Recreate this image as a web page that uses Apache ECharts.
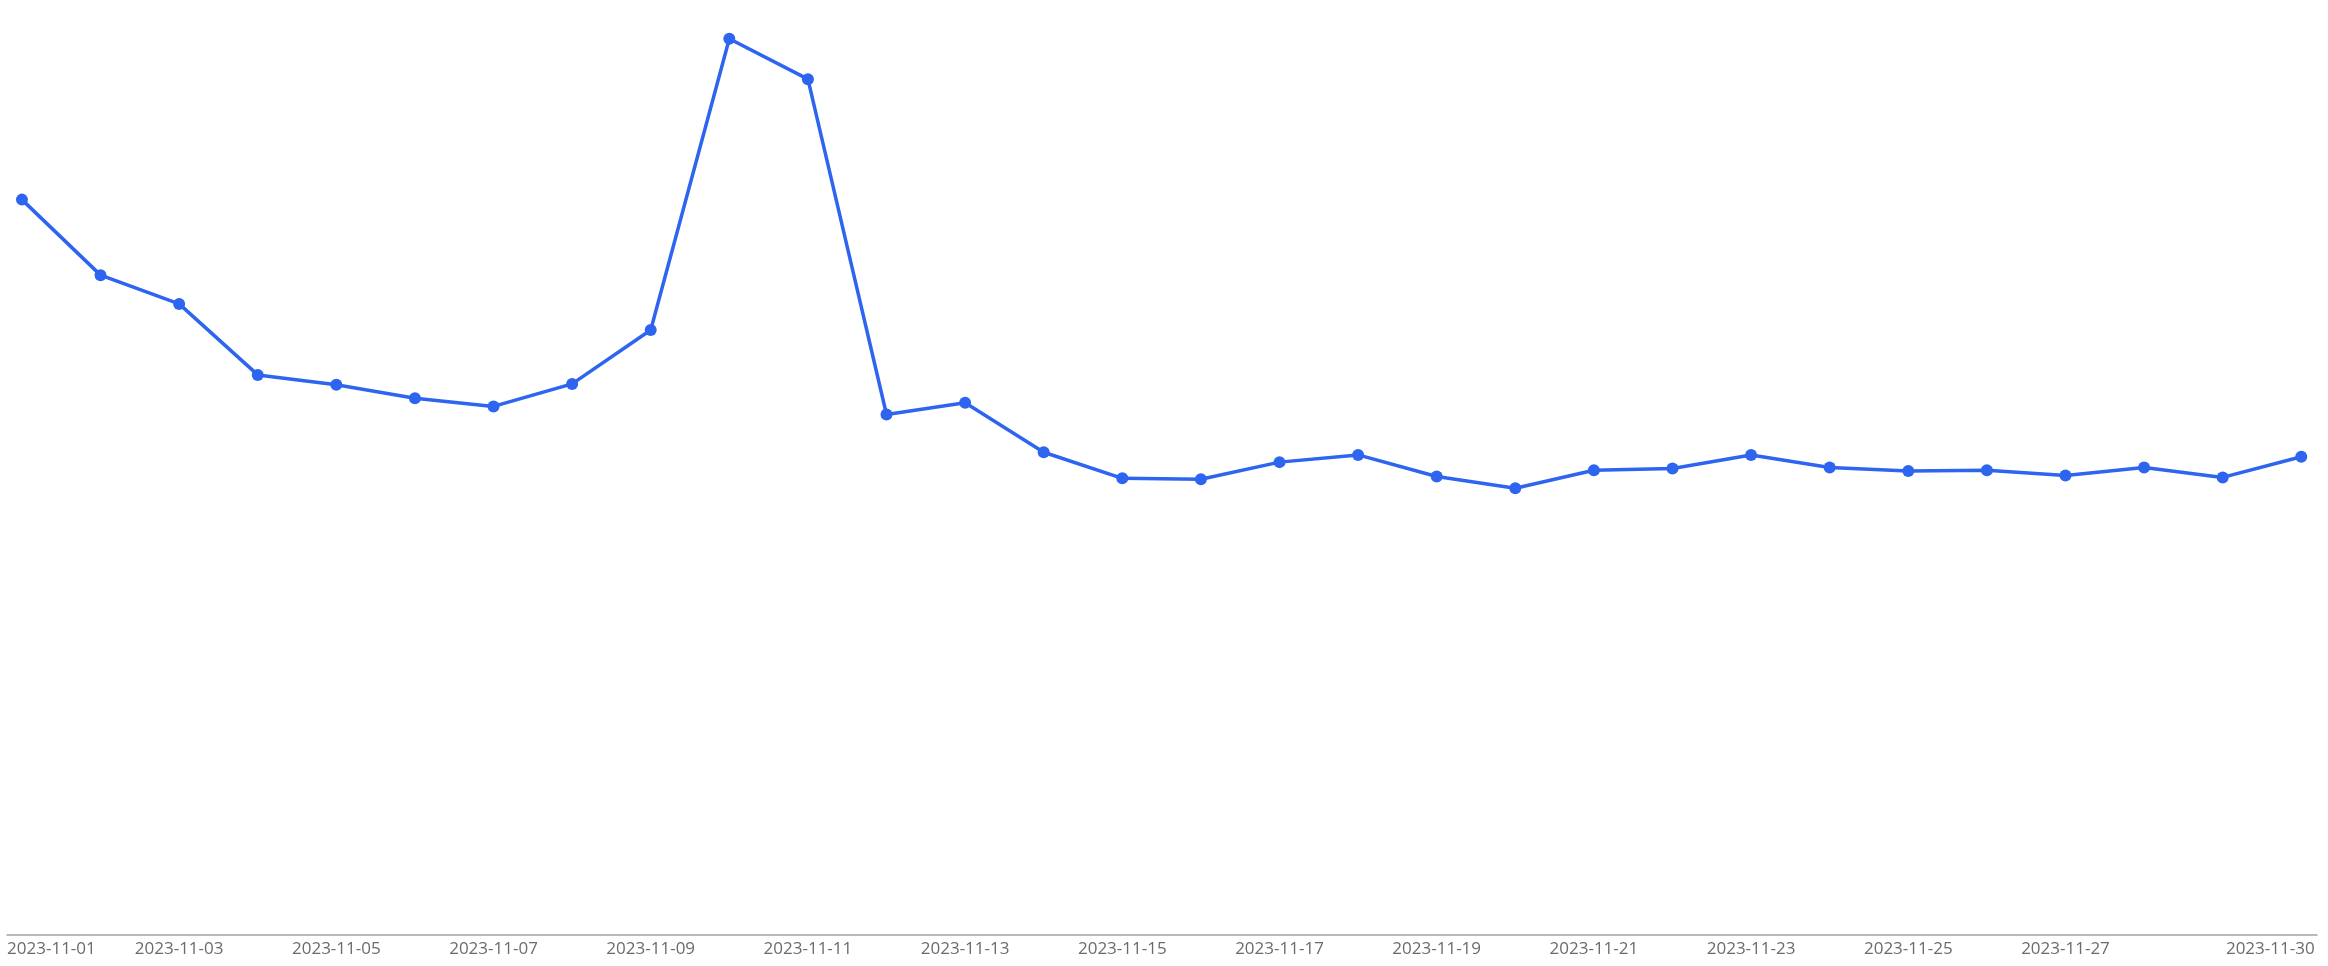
<!DOCTYPE html>
<html>
<head>
<meta charset="utf-8">
<script src="https://cdn.jsdelivr.net/npm/echarts@6/dist/echarts.min.js"></script>
<style>
html,body{margin:0;padding:0;background:#fff;}
#chart{width:2328px;height:966px;}
</style>
</head>
<body>
<div id="chart"></div>
<script>
const dates = ['2023-11-01','2023-11-02','2023-11-03','2023-11-04','2023-11-05','2023-11-06','2023-11-07','2023-11-08','2023-11-09','2023-11-10',
  '2023-11-11','2023-11-12','2023-11-13','2023-11-14','2023-11-15','2023-11-16','2023-11-17','2023-11-18','2023-11-19','2023-11-20',
  '2023-11-21','2023-11-22','2023-11-23','2023-11-24','2023-11-25','2023-11-26','2023-11-27','2023-11-28','2023-11-29','2023-11-30'];
const values = [818,734,702,623,612,597,588,613,673,997,
  952,579,592,537,508,507,526,534,510,497,
  517,519,534,520,516,517,511,520,509,532];
const labelIndices = [0,2,4,6,8,10,12,14,16,18,20,22,24,26,29];

const chart = echarts.init(document.getElementById('chart'));
const lastIdx = dates.length - 1;
chart.setOption({
  animation: false,
  grid: {left: 7, right: 11, top: 36, bottom: 31, containLabel: false, outerBoundsMode: 'none'},
  xAxis: {
    type: 'value',
    min: -0.19,
    max: lastIdx + 0.2,
    splitLine: {show: false},
    axisTick: {show: false},
    axisLine: {show: true, lineStyle: {color: '#A3A3A3', width: 1.5}},
    axisLabel: {
      customValues: labelIndices,
      color: '#6B6B6B',
      fontFamily: 'Open Sans',
      fontSize: 17,
      margin: 6,
      formatter: function (v) {
        const i = Math.round(v);
        if (i === 0) return '{first|' + dates[i] + '}';
        if (i === lastIdx) return '{last|' + dates[i] + '}';
        return dates[i];
      },
      rich: {
        first: {color: '#6B6B6B', fontFamily: 'Open Sans', fontSize: 17, padding: [0, 0, 0, 59]},
        last: {color: '#6B6B6B', fontFamily: 'Open Sans', fontSize: 17, padding: [0, 62, 0, 0]}
      }
    }
  },
  yAxis: {type: 'value', min: 0, max: 1000, show: false, splitLine: {show: false}},
  series: [{
    type: 'line',
    data: values.map((v, i) => [i, v]),
    symbol: 'circle',
    symbolSize: 12,
    lineStyle: {color: '#2D64F0', width: 3.5},
    itemStyle: {color: '#2D64F0'}
  }]
});
</script>
</body>
</html>
